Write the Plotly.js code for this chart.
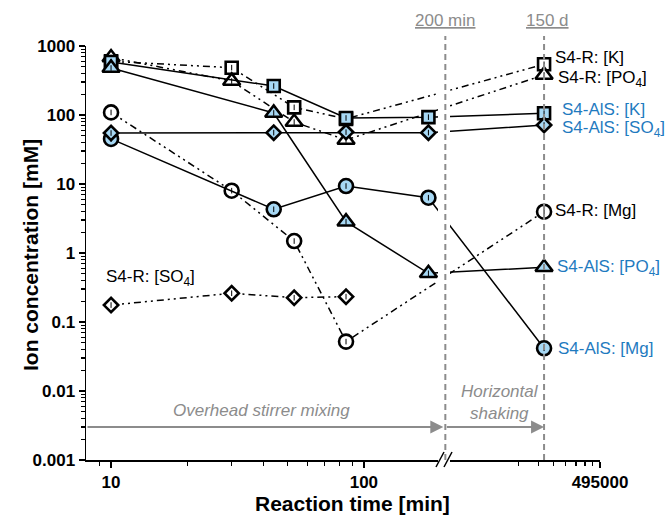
<!DOCTYPE html>
<html><head><meta charset="utf-8">
<script src="https://cdn.plot.ly/plotly-3.0.1.min.js"></script>
<style>html,body{margin:0;padding:0;background:#fff}#chart{width:668px;height:519px}</style>
</head><body><div id="chart"></div>
<script>
// Reaction times [min] (150 d = 216000 min)
const timesR = [10, 30, 53, 85, 216000];
const timesRSO4 = [10, 30, 53, 85];
const timesA = [10, 44, 85, 180, 216000];
// S4-R concentrations [mM]
const rK   = [600, 485, 129, 88, 543];
const rPO4 = [680, 311, 79, 43.5, 380];
const rMg  = [109, 8.0, 1.49, 0.052, 3.97];
const rSO4 = [0.176, 0.261, 0.225, 0.233];
// S4-AlS concentrations [mM]
const aK   = [586, 263, 90.6, 93, 106];
const aPO4 = [480, 107, 2.84, 0.508, 0.62];
const aMg  = [45, 4.3, 9.35, 6.33, 0.0416];
const aSO4 = [54.8, 55.5, 56.5, 55.5, 71.6];
// ticks
const yTickVals = [0.001, 0.01, 0.1, 1, 10, 100, 1000];
const yTickText = ['0.001', '0.01', '0.1', '1', '10', '100', '1000'];
const xTickVals = [10, 100, 495000];
const xTickText = ['10', '100', '495000'];
const xMinorLeft = [9, 20, 30, 40, 50, 60, 70, 80, 90];
const xMinorRight = [148500, 198000, 247500, 297000, 346500, 396000, 445500];
const phaseTimes = [200, 216000];
const arrowLevel = 0.003;

// broken log time axis
const X_START = 7.96, BREAK_T = 210, RIGHT_T0 = 50000, RIGHT_SCALE = 0.6144, X_END = 495000;
const bx = t => t <= BREAK_T ? Math.log10(t)
  : Math.log10(BREAK_T) + (Math.log10(t) - Math.log10(RIGHT_T0)) * RIGHT_SCALE;

const L = 86, R = 600, T = 46, B = 460;
const px = v => (v - L) / (R - L);
const py = v => (B - v) / (B - T);

const BLUE = '#a7d8f4', TXTBLUE = '#1f7bbf', GRAY = '#8c8c8c';
const DASH_R = '7px,4px,2px,4px,2px,4px';
const FONT = 'Liberation Sans, Arial, sans-serif';

const traces = [];
function addSeries(times, vals, symbol, size, fill, dash) {
  const xs = times.map(bx);
  traces.push({x: xs, y: vals, type: 'scatter', mode: 'lines+markers',
    line: {color: '#000', width: 1.5, dash: dash},
    marker: {symbol: symbol, size: size, color: fill, line: {color: '#000', width: 2.6}},
    hoverinfo: 'skip', showlegend: false});
  traces.push({x: xs, y: vals, type: 'scatter', mode: 'markers',
    marker: {symbol: 'line-ns', size: 4, color: '#000', line: {color: '#000', width: 1}},
    hoverinfo: 'skip', showlegend: false});
}
addSeries(timesRSO4, rSO4, 'diamond', 11, '#fff', DASH_R);
addSeries(timesR, rMg, 'circle', 14, '#fff', DASH_R);
addSeries(timesR, rK, 'square', 12, '#fff', DASH_R);
addSeries(timesR, rPO4, 'triangle-up', 15, '#fff', DASH_R);
addSeries(timesA, aK, 'square', 12, BLUE, 'solid');
addSeries(timesA, aPO4, 'triangle-up', 15, BLUE, 'solid');
addSeries(timesA, aMg, 'circle', 14, BLUE, 'solid');
addSeries(timesA, aSO4, 'diamond', 11, BLUE, 'solid');

const yMinor = [];
for (let d = -3; d < 3; d++) for (let k = 2; k <= 9; k++) yMinor.push(k * Math.pow(10, d));

const lab = (text, x, y, color) => ({text: text, xref: 'paper', yref: 'paper', x: px(x), y: py(y),
  xanchor: 'left', yanchor: 'middle', showarrow: false, font: {family: FONT, size: 17, color: color}});
const ctr = (text, x, y, size, color, extra) => Object.assign({text: text, xref: 'paper', yref: 'paper',
  x: px(x), y: py(y), xanchor: 'center', yanchor: 'middle', showarrow: false,
  font: {family: FONT, size: size, color: color}}, extra || {});

const annotations = [
  lab('S4-R: [K]', 553, 57, '#000'),
  lab('S4-R: [PO<sub>4</sub>]', 556, 79, '#000'),
  lab('S4-AlS: [K]', 560, 109, TXTBLUE),
  lab('S4-AlS: [SO<sub>4</sub>]', 560, 129, TXTBLUE),
  lab('S4-R: [Mg]', 553, 210, '#000'),
  lab('S4-AlS: [PO<sub>4</sub>]', 555, 268, TXTBLUE),
  lab('S4-AlS: [Mg]', 556, 348, TXTBLUE),
  lab('S4-R: [SO<sub>4</sub>]', 104, 278, '#000'),
  {text: '<u>200 min</u>', xref: 'x', yref: 'paper', x: bx(BREAK_T), y: py(21), xanchor: 'center', yanchor: 'middle',
   showarrow: false, font: {family: FONT, size: 17, color: GRAY}},
  {text: '<u>150 d</u>', xref: 'x', yref: 'paper', x: bx(phaseTimes[1]), y: py(21), xshift: 3, xanchor: 'center',
   yanchor: 'middle', showarrow: false, font: {family: FONT, size: 17, color: GRAY}},
  ctr('<i>Overhead stirrer mixing</i>', 261, 410, 17, GRAY),
  ctr('<i>Horizontal<br>shaking</i>', 500, 402, 17, GRAY),
  {text: '', xref: 'x', yref: 'y', axref: 'x', ayref: 'y', x: bx(BREAK_T), y: Math.log10(arrowLevel),
   ax: bx(X_START), ay: Math.log10(arrowLevel), showarrow: true, arrowhead: 2, arrowsize: 1.3, arrowwidth: 2,
   arrowcolor: GRAY, standoff: 2},
  {text: '', xref: 'x', yref: 'y', axref: 'x', ayref: 'y', x: bx(phaseTimes[1]), y: Math.log10(arrowLevel),
   ax: bx(BREAK_T), ay: Math.log10(arrowLevel), showarrow: true, arrowhead: 2, arrowsize: 1.3, arrowwidth: 2,
   arrowcolor: GRAY, standoff: 0},
  ctr('<b>Reaction time [min]</b>', 352, 503, 21, '#000'),
  ctr('<b>Ion concentration [mM]</b>', 30, 255, 21, '#000', {textangle: -90})
];

const shapes = [
  {type: 'rect', xref: 'paper', yref: 'paper', x0: px(438), x1: px(450), y0: -0.006, y1: 1, layer: 'above',
   fillcolor: '#fff', line: {width: 0}},
  {type: 'line', xref: 'x', yref: 'paper', x0: bx(BREAK_T), x1: bx(BREAK_T), y0: 0, y1: py(36), layer: 'above',
   line: {color: GRAY, width: 2, dash: '6px,4px'}},
  {type: 'line', xref: 'x', yref: 'paper', x0: bx(phaseTimes[1]), x1: bx(phaseTimes[1]), y0: 0, y1: py(36), layer: 'above',
   line: {color: GRAY, width: 2, dash: '6px,4px'}},
  {type: 'line', xref: 'paper', yref: 'paper', x0: px(436), x1: px(444), y0: py(467), y1: py(452), layer: 'above',
   line: {color: '#000', width: 1.5}},
  {type: 'line', xref: 'paper', yref: 'paper', x0: px(444), x1: px(452), y0: py(467), y1: py(452), layer: 'above',
   line: {color: '#000', width: 1.5}}
];

const layout = {
  width: 668, height: 519,
  margin: {l: L, r: 668 - R, t: T, b: 519 - B},
  paper_bgcolor: '#fff', plot_bgcolor: '#fff',
  showlegend: false,
  font: {family: FONT, color: '#000'},
  xaxis: {type: 'linear', range: [bx(X_START), bx(X_END)], showgrid: false, zeroline: false,
    showline: true, linecolor: '#000', linewidth: 1.5,
    tickmode: 'array', tickvals: xTickVals.map(bx), ticktext: xTickText,
    ticks: 'outside', ticklen: 6, tickwidth: 1.5, tickcolor: '#000',
    tickfont: {family: FONT, size: 17, weight: 'bold', color: '#000'},
    minor: {tickmode: 'array', tickvals: xMinorLeft.concat(xMinorRight).map(bx), ticks: 'outside', ticklen: 4,
      tickwidth: 1.2, tickcolor: '#000', showgrid: false}},
  yaxis: {type: 'log', range: [-3, 3], showgrid: false, zeroline: false,
    showline: true, linecolor: '#000', linewidth: 1.5,
    tickmode: 'array', tickvals: yTickVals, ticktext: yTickText,
    ticks: 'outside', ticklen: 6, tickwidth: 1.5, tickcolor: '#000',
    tickfont: {family: FONT, size: 17, weight: 'bold', color: '#000'},
    minor: {tickmode: 'array', tickvals: yMinor, ticks: 'outside', ticklen: 4, tickwidth: 1.2, tickcolor: '#000',
      showgrid: false}},
  annotations: annotations,
  shapes: shapes
};

Plotly.newPlot('chart', traces, layout, {staticPlot: true, displayModeBar: false});
</script>
</body></html>
